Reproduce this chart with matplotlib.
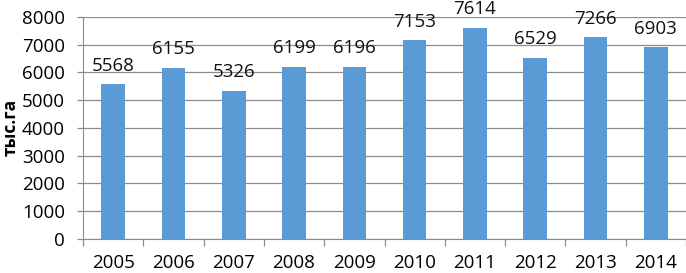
import matplotlib.pyplot as plt
import numpy as np

years = ["2005", "2006", "2007", "2008", "2009", "2010", "2011", "2012", "2013", "2014"]
values = [5568, 6155, 5326, 6199, 6196, 7153, 7614, 6529, 7266, 6903]

plt.rcParams['font.family'] = ['Open Sans', 'DejaVu Sans']

fig = plt.figure(figsize=(6.86, 2.73), dpi=100)
ax = fig.add_axes([0.121, 0.125, 0.879, 0.813])

x = np.arange(len(years))
bars = ax.bar(x, values, width=0.39, color="#5B9BD5", zorder=3)

for xi, v in zip(x, values):
    ax.annotate(str(v), (xi, v), xytext=(0, 7), textcoords="offset points",
                ha="center", va="bottom", fontsize=13.5, color="#111111")

ax.set_xlim(-0.5, len(years) - 0.5)
ax.set_ylim(0, 8000)
ax.set_yticks(range(0, 8001, 1000))
ax.yaxis.grid(True, color="#8c8c8c", linewidth=0.9, zorder=0)
ax.set_axisbelow(True)

ax.set_xticks(x)
ax.set_xticklabels(years, fontsize=13.5)
ax.tick_params(axis="x", length=0, pad=11)
ax.set_xticks(np.arange(-0.5, len(years), 1), minor=True)
ax.tick_params(axis="x", which="minor", length=5, color="#8c8c8c", width=0.9)
ax.tick_params(axis="y", labelsize=13.5, length=4, color="#8c8c8c", width=0.9, pad=9)

for s in ["top", "right"]:
    ax.spines[s].set_visible(False)
ax.spines["left"].set_color("#8c8c8c")
ax.spines["bottom"].set_color("#8c8c8c")

ax.set_ylabel("тыс.га", fontsize=12.5, fontweight="bold", labelpad=2)

fig.savefig("out.png", dpi=100)
